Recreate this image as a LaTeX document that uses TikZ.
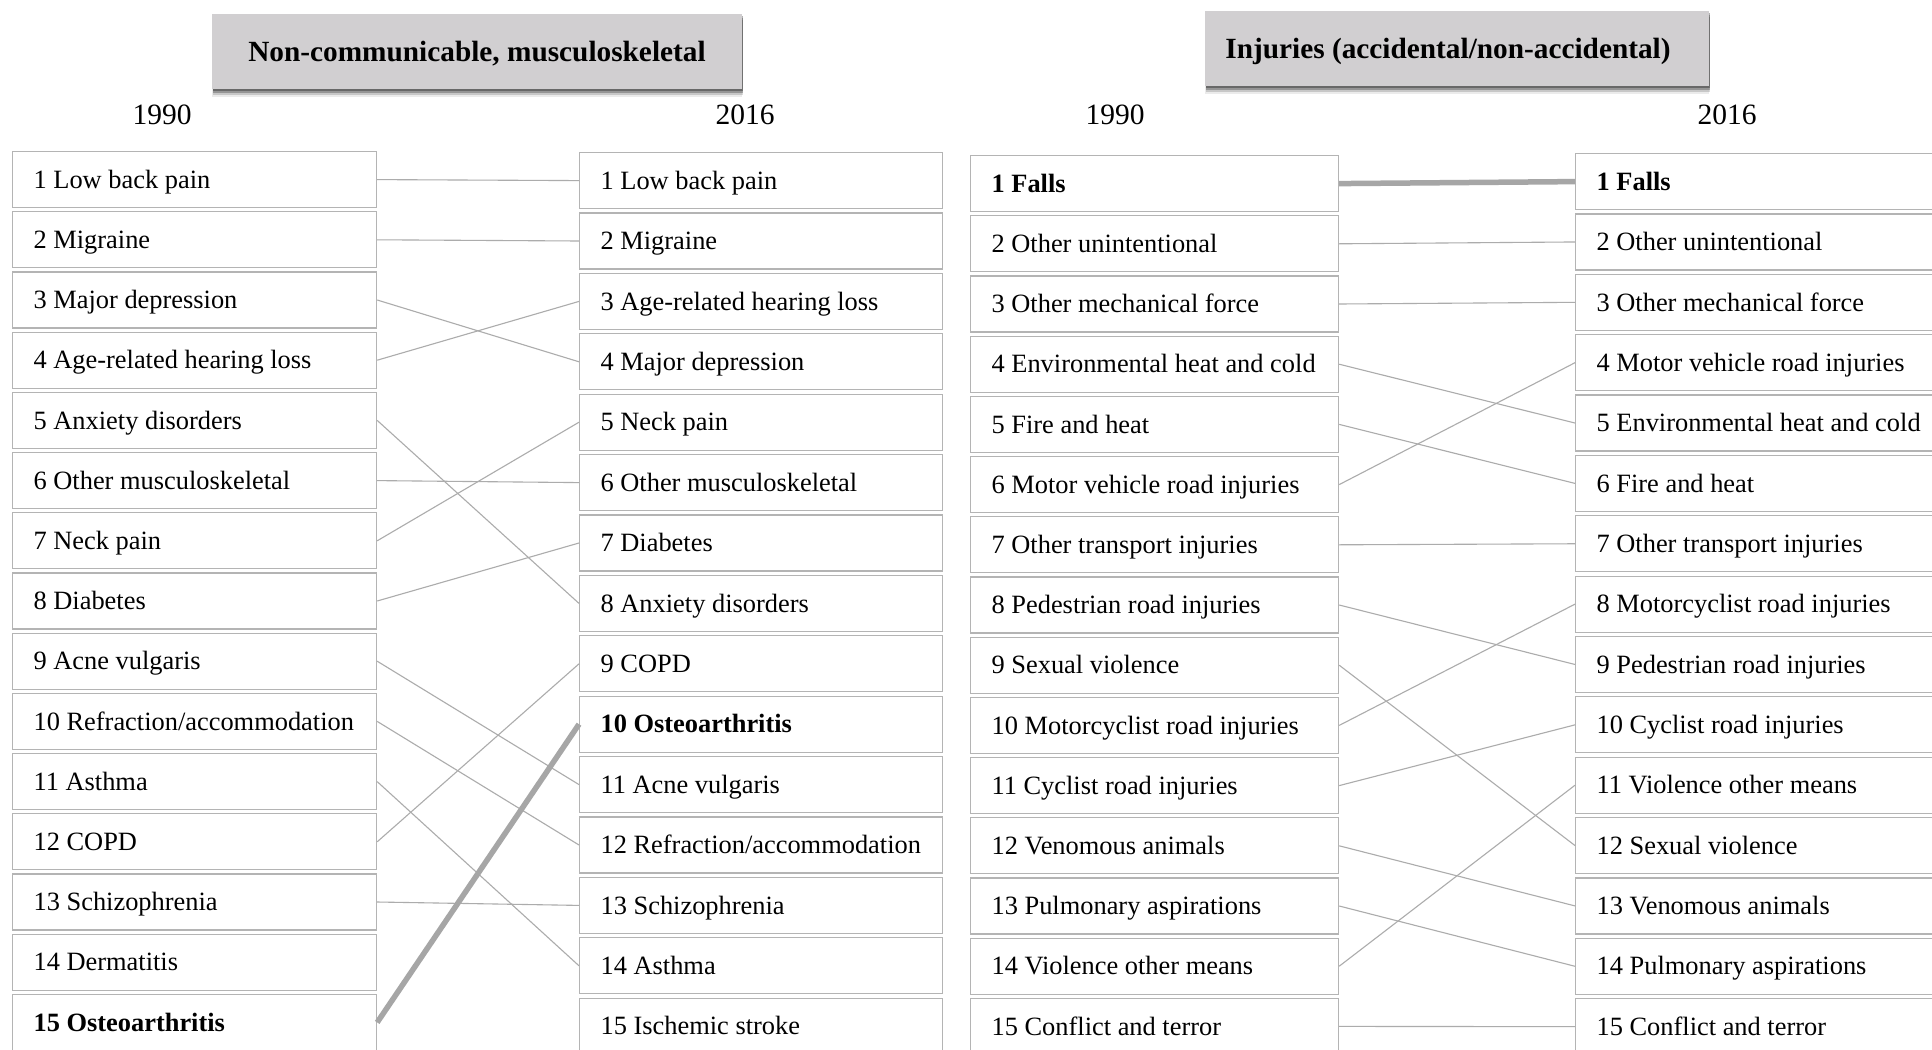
\documentclass[tikz,border=0pt]{standalone}
\usepackage{fontspec}
\setmainfont{Liberation Serif}
\usetikzlibrary{shadows}

\definecolor{boxline}{HTML}{B4B4B4}
\definecolor{linkgray}{HTML}{ACACAC}
\definecolor{thickgray}{HTML}{A6A6A6}
\definecolor{titlefill}{HTML}{D1CFD1}

\newcommand{\rankentry}[2]{\makebox[#1][l]{#2}}

\tikzset{
  rankbox/.style={draw=boxline, line width=1.2pt, rectangle, anchor=north west,
    minimum height=56pt, inner xsep=21pt, inner ysep=0pt,
    text height=17.4pt, text depth=0pt, font=\fontsize{26.4}{30}\selectfont},
  titlebox/.style={fill=titlefill, rectangle, minimum height=75pt,
    text height=19.6pt, text depth=0pt,
    font=\fontsize{29.3}{33}\selectfont\bfseries,
    drop shadow={shadow xshift=0pt, shadow yshift=-8pt, opacity=0.08, fill=black},
    drop shadow={shadow xshift=1pt, shadow yshift=-6pt, opacity=0.15, fill=black},
    drop shadow={shadow xshift=1pt, shadow yshift=-4pt, opacity=0.25, fill=black},
    drop shadow={shadow xshift=0.5pt, shadow yshift=-2pt, opacity=0.3, fill=black}},
  yearlabel/.style={font=\fontsize{29.5}{33}\selectfont},
  link/.style={draw=linkgray, line width=1.1pt},
  strong link/.style={draw=thickgray, line width=5.5pt}
}

\begin{document}
\begin{tikzpicture}[x=1pt, y=-1pt]
\clip (0,0) rectangle (1932,1049);
\fill[white] (0,0) rectangle (1932,1049);

% ---- panel headings ----
\node[titlebox, minimum width=530pt] (titleA) at (477,51.5) {Non-communicable, musculoskeletal};
\node[titlebox, minimum width=504pt] (titleB) at (1457,48.5) {\hspace*{-18pt}Injuries (accidental/non-accidental)};

\node[yearlabel] (yA1) at (162,115) {1990};
\node[yearlabel] (yA2) at (745,115) {2016};
\node[yearlabel] (yB1) at (1115,115) {1990};
\node[yearlabel] (yB2) at (1727,115) {2016};

% ---- musculoskeletal, 1990 ----
\foreach \txt [count=\i] in {1 Low back pain, 2 Migraine, 3 Major depression,
  4 Age-related hearing loss, 5 Anxiety disorders, 6 Other musculoskeletal,
  7 Neck pain, 8 Diabetes, 9 Acne vulgaris, 10 Refraction/accommodation,
  11 Asthma, 12 COPD, 13 Schizophrenia, 14 Dermatitis, \textbf{15 Osteoarthritis}}
  \node[rankbox] (a\i) at (12,{151+(\i-1)*60.2}) {\rankentry{322pt}{\txt}};

% ---- musculoskeletal, 2016 ----
\foreach \txt [count=\i] in {1 Low back pain, 2 Migraine, 3 Age-related hearing loss,
  4 Major depression, 5 Neck pain, 6 Other musculoskeletal, 7 Diabetes,
  8 Anxiety disorders, 9 COPD, \textbf{10 Osteoarthritis}, 11 Acne vulgaris,
  12 Refraction/accommodation, 13 Schizophrenia, 14 Asthma, 15 Ischemic stroke}
  \node[rankbox] (b\i) at (579,{152+(\i-1)*60.4}) {\rankentry{321pt}{\txt}};

% ---- injuries, 1990 ----
\foreach \txt [count=\i] in {\textbf{1 Falls}, 2 Other unintentional,
  3 Other mechanical force, 4 Environmental heat and cold, 5 Fire and heat,
  6 Motor vehicle road injuries, 7 Other transport injuries,
  8 Pedestrian road injuries, 9 Sexual violence, 10 Motorcyclist road injuries,
  11 Cyclist road injuries, 12 Venomous animals, 13 Pulmonary aspirations,
  14 Violence other means, 15 Conflict and terror}
  \node[rankbox] (c\i) at (970,{155+(\i-1)*60.2}) {\rankentry{326pt}{\txt}};

% ---- injuries, 2016 ----
\foreach \txt [count=\i] in {\textbf{1 Falls}, 2 Other unintentional,
  3 Other mechanical force, 4 Motor vehicle road injuries,
  5 Environmental heat and cold, 6 Fire and heat, 7 Other transport injuries,
  8 Motorcyclist road injuries, 9 Pedestrian road injuries,
  10 Cyclist road injuries, 11 Violence other means, 12 Sexual violence,
  13 Venomous animals, 14 Pulmonary aspirations, 15 Conflict and terror}
  \node[rankbox] (d\i) at (1575,{153+(\i-1)*60.36}) {\rankentry{360pt}{\txt}};

% ---- rank changes ----
\foreach \s/\t in {1/1, 2/2, 3/4, 4/3, 5/8, 6/6, 7/5, 8/7, 9/11, 10/12,
  11/14, 12/9, 13/13}
  \draw[link] (a\s.east) -- (b\t.west);
\draw[strong link] (a15.east) -- (b10.west);

\foreach \s/\t in {2/2, 3/3, 4/5, 5/6, 6/4, 7/7, 8/9, 9/12, 10/8, 11/10,
  12/13, 13/14, 14/11, 15/15}
  \draw[link] (c\s.east) -- (d\t.west);
\draw[strong link] (c1.east) -- (d1.west);
\end{tikzpicture}
\end{document}
